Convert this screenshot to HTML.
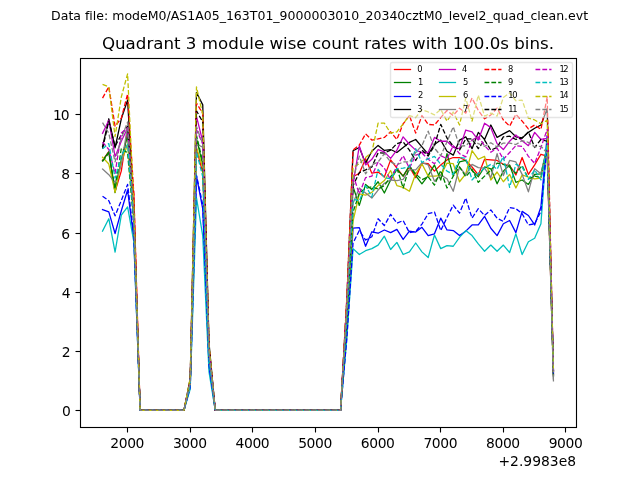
<!DOCTYPE html>
<html lang="en"><head><meta charset="utf-8"><title>Quadrant 3 module wise count rates</title>
<style>html,body{margin:0;padding:0;background:#fff;overflow:hidden}svg{display:block}text{font-family:'DejaVu Sans','Liberation Sans',sans-serif;fill:#000;font-variant-ligatures:none}svg{will-change:transform}</style></head><body>
<svg width="640" height="480" viewBox="0 0 640 480">
<rect x="0" y="0" width="640" height="480" fill="#fff"/>
<text x="319.6" y="19.60" font-size="12.52" text-anchor="middle">Data file: modeM0/AS1A05_163T01_9000003010_20340cztM0_level2_quad_clean.evt</text>
<text x="328" y="49.30" font-size="16.667" text-anchor="middle">Quadrant 3 module wise count rates with 100.0s bins.</text>
<clipPath id="c"><rect x="80.0" y="57.6" width="496.0" height="369.6"/></clipPath>
<g clip-path="url(#c)" fill="none" stroke-width="1.29" stroke-linejoin="round">
<polyline points="102.55,160.48 108.81,151.61 115.07,191.53 121.33,170.83 127.60,129.42 133.86,194.49 140.12,410.40 146.38,410.40 152.65,410.40 158.91,410.40 165.17,410.40 171.43,410.40 177.70,410.40 183.96,410.40 190.22,384.25 196.48,148.94 202.75,172.60 209.01,358.08 215.27,410.40 221.54,410.40 227.80,410.40 234.06,410.40 240.32,410.40 246.59,410.40 252.85,410.40 259.11,410.40 265.37,410.40 271.64,410.40 277.90,410.40 284.16,410.40 290.42,410.40 296.69,410.40 302.95,410.40 309.21,410.40 315.47,410.40 321.74,410.40 328.00,410.40 334.26,410.40 340.53,410.40 346.79,302.92 353.05,176.74 359.31,173.19 365.58,158.70 371.84,173.19 378.10,172.01 384.36,177.04 390.63,159.89 396.89,168.17 403.15,176.15 409.41,166.98 415.68,177.63 421.94,163.14 428.20,163.73 434.46,171.13 440.73,164.91 446.99,159.89 453.25,157.52 459.52,157.52 465.78,160.48 472.04,166.98 478.30,174.97 484.57,159.29 490.83,159.89 497.09,160.48 503.35,164.32 509.62,165.51 515.88,174.97 522.14,157.52 528.40,174.38 534.67,164.91 540.93,154.27 547.19,156.04 553.45,374.91" stroke="#ff0000" stroke-linecap="square"/>
<polyline points="102.55,160.77 108.81,151.90 115.07,192.72 121.33,159.00 127.60,135.34 133.86,218.15 140.12,410.40 146.38,410.40 152.65,410.40 158.91,410.40 165.17,410.40 171.43,410.40 177.70,410.40 183.96,410.40 190.22,383.19 196.48,138.30 202.75,164.91 209.01,356.39 215.27,410.40 221.54,410.40 227.80,410.40 234.06,410.40 240.32,410.40 246.59,410.40 252.85,410.40 259.11,410.40 265.37,410.40 271.64,410.40 277.90,410.40 284.16,410.40 290.42,410.40 296.69,410.40 302.95,410.40 309.21,410.40 315.47,410.40 321.74,410.40 328.00,410.40 334.26,410.40 340.53,410.40 346.79,312.03 353.05,186.80 359.31,205.43 365.58,184.44 371.84,189.46 378.10,181.77 384.36,193.01 390.63,180.00 396.89,169.35 403.15,176.15 409.41,165.51 415.68,175.56 421.94,183.84 428.20,175.56 434.46,164.91 440.73,180.00 446.99,153.67 453.25,175.56 459.52,161.96 465.78,160.48 472.04,170.53 478.30,176.74 484.57,166.98 490.83,168.76 497.09,183.84 503.35,171.13 509.62,164.91 515.88,182.36 522.14,180.00 528.40,184.44 534.67,174.38 540.93,173.79 547.19,147.17 553.45,376.39" stroke="#008000" stroke-linecap="square"/>
<polyline points="102.55,209.57 108.81,211.94 115.07,233.53 121.33,210.76 127.60,190.05 133.86,238.86 140.12,410.40 146.38,410.40 152.65,410.40 158.91,410.40 165.17,410.40 171.43,410.40 177.70,410.40 183.96,410.40 190.22,386.97 196.48,176.15 202.75,208.98 209.01,366.09 215.27,410.40 221.54,410.40 227.80,410.40 234.06,410.40 240.32,410.40 246.59,410.40 252.85,410.40 259.11,410.40 265.37,410.40 271.64,410.40 277.90,410.40 284.16,410.40 290.42,410.40 296.69,410.40 302.95,410.40 309.21,410.40 315.47,410.40 321.74,410.40 328.00,410.40 334.26,410.40 340.53,410.40 346.79,333.88 353.05,228.21 359.31,227.62 365.58,246.25 371.84,231.76 378.10,233.24 384.36,229.98 390.63,232.65 396.89,229.39 403.15,239.45 409.41,231.16 415.68,232.05 421.94,227.32 428.20,235.60 434.46,233.83 440.73,218.15 446.99,229.98 453.25,230.57 459.52,235.60 465.78,231.16 472.04,224.95 478.30,224.95 484.57,216.38 490.83,228.21 497.09,235.60 503.35,223.77 509.62,220.52 515.88,232.65 522.14,211.35 528.40,215.49 534.67,224.95 540.93,206.91 547.19,135.34 553.45,374.91" stroke="#0000ff" stroke-linecap="square"/>
<polyline points="102.55,146.58 108.81,118.77 115.07,147.76 121.33,118.77 127.60,100.14 133.86,209.28 140.12,410.40 146.38,410.40 152.65,410.40 158.91,410.40 165.17,410.40 171.43,410.40 177.70,410.40 183.96,410.40 190.22,378.60 196.48,92.45 202.75,104.87 209.01,343.17 215.27,410.40 221.54,410.40 227.80,410.40 234.06,410.40 240.32,410.40 246.59,410.40 252.85,410.40 259.11,410.40 265.37,410.40 271.64,410.40 277.90,410.40 284.16,410.40 290.42,410.40 296.69,410.40 302.95,410.40 309.21,410.40 315.47,410.40 321.74,410.40 328.00,410.40 334.26,410.40 340.53,410.40 346.79,301.32 353.05,150.72 359.31,147.46 365.58,163.14 371.84,151.31 378.10,145.39 384.36,150.42 390.63,149.53 396.89,152.49 403.15,147.46 409.41,142.44 415.68,139.48 421.94,146.87 428.20,154.27 434.46,144.51 440.73,140.07 446.99,151.31 453.25,155.15 459.52,140.07 465.78,136.81 472.04,148.65 478.30,132.38 484.57,139.48 490.83,124.99 497.09,137.41 503.35,133.86 509.62,130.60 515.88,136.81 522.14,138.00 528.40,132.38 534.67,128.24 540.93,124.99 547.19,108.72 553.45,371.95" stroke="#000000" stroke-linecap="square"/>
<polyline points="102.55,133.27 108.81,120.25 115.07,156.63 121.33,141.25 127.60,127.94 133.86,215.19 140.12,410.40 146.38,410.40 152.65,410.40 158.91,410.40 165.17,410.40 171.43,410.40 177.70,410.40 183.96,410.40 190.22,381.00 196.48,116.41 202.75,141.55 209.01,351.25 215.27,410.40 221.54,410.40 227.80,410.40 234.06,410.40 240.32,410.40 246.59,410.40 252.85,410.40 259.11,410.40 265.37,410.40 271.64,410.40 277.90,410.40 284.16,410.40 290.42,410.40 296.69,410.40 302.95,410.40 309.21,410.40 315.47,410.40 321.74,410.40 328.00,410.40 334.26,410.40 340.53,410.40 346.79,308.57 353.05,184.14 359.31,145.99 365.58,164.91 371.84,159.29 378.10,149.53 384.36,151.90 390.63,158.41 396.89,150.12 403.15,136.81 409.41,144.21 415.68,150.12 421.94,152.49 428.20,152.49 434.46,137.41 440.73,141.25 446.99,141.25 453.25,147.46 459.52,148.65 465.78,130.01 472.04,131.79 478.30,140.07 484.57,123.21 490.83,127.65 497.09,143.62 503.35,149.53 509.62,141.25 515.88,135.04 522.14,140.66 528.40,145.69 534.67,132.38 540.93,139.48 547.19,138.30 553.45,370.47" stroke="#bf00bf" stroke-linecap="square"/>
<polyline points="102.55,231.16 108.81,218.74 115.07,252.17 121.33,215.19 127.60,206.91 133.86,241.81 140.12,410.40 146.38,410.40 152.65,410.40 158.91,410.40 165.17,410.40 171.43,410.40 177.70,410.40 183.96,410.40 190.22,389.13 196.48,197.75 202.75,235.90 209.01,372.01 215.27,410.40 221.54,410.40 227.80,410.40 234.06,410.40 240.32,410.40 246.59,410.40 252.85,410.40 259.11,410.40 265.37,410.40 271.64,410.40 277.90,410.40 284.16,410.40 290.42,410.40 296.69,410.40 302.95,410.40 309.21,410.40 315.47,410.40 321.74,410.40 328.00,410.40 334.26,410.40 340.53,410.40 346.79,339.21 353.05,248.62 359.31,254.53 365.58,250.69 371.84,248.62 378.10,245.07 384.36,236.19 390.63,249.50 396.89,242.41 403.15,254.53 409.41,251.87 415.68,243.00 421.94,251.87 428.20,257.49 434.46,235.01 440.73,248.62 446.99,245.66 453.25,246.25 459.52,237.38 465.78,230.57 472.04,235.60 478.30,243.88 484.57,251.28 490.83,245.07 497.09,251.28 503.35,245.07 509.62,252.46 515.88,233.83 522.14,254.53 528.40,241.81 534.67,238.26 540.93,223.77 547.19,138.30 553.45,370.47" stroke="#00bfbf" stroke-linecap="square"/>
<polyline points="102.55,157.22 108.81,164.03 115.07,192.42 121.33,161.96 127.60,144.21 133.86,221.11 140.12,410.40 146.38,410.40 152.65,410.40 158.91,410.40 165.17,410.40 171.43,410.40 177.70,410.40 183.96,410.40 190.22,384.08 196.48,147.17 202.75,167.87 209.01,357.04 215.27,410.40 221.54,410.40 227.80,410.40 234.06,410.40 240.32,410.40 246.59,410.40 252.85,410.40 259.11,410.40 265.37,410.40 271.64,410.40 277.90,410.40 284.16,410.40 290.42,410.40 296.69,410.40 302.95,410.40 309.21,410.40 315.47,410.40 321.74,410.40 328.00,410.40 334.26,410.40 340.53,410.40 346.79,323.33 353.05,221.11 359.31,193.90 365.58,195.08 371.84,192.42 378.10,185.62 384.36,180.59 390.63,170.53 396.89,185.62 403.15,187.39 409.41,191.24 415.68,173.79 421.94,163.73 428.20,176.15 434.46,176.15 440.73,175.56 446.99,163.14 453.25,163.73 459.52,181.77 465.78,173.79 472.04,150.72 478.30,159.29 484.57,156.34 490.83,180.00 497.09,172.01 503.35,181.77 509.62,174.38 515.88,187.99 522.14,174.97 528.40,177.04 534.67,178.81 540.93,178.22 547.19,147.17 553.45,374.91" stroke="#bfbf00" stroke-linecap="square"/>
<polyline points="102.55,169.05 108.81,174.68 115.07,182.66 121.33,164.91 127.60,126.47 133.86,218.15 140.12,410.40 146.38,410.40 152.65,410.40 158.91,410.40 165.17,410.40 171.43,410.40 177.70,410.40 183.96,410.40 190.22,383.78 196.48,144.21 202.75,147.17 209.01,352.49 215.27,410.40 221.54,410.40 227.80,410.40 234.06,410.40 240.32,410.40 246.59,410.40 252.85,410.40 259.11,410.40 265.37,410.40 271.64,410.40 277.90,410.40 284.16,410.40 290.42,410.40 296.69,410.40 302.95,410.40 309.21,410.40 315.47,410.40 321.74,410.40 328.00,410.40 334.26,410.40 340.53,410.40 346.79,317.23 353.05,203.36 359.31,187.99 365.58,193.01 371.84,198.04 378.10,190.05 384.36,183.25 390.63,180.00 396.89,180.59 403.15,179.41 409.41,169.94 415.68,169.94 421.94,162.55 428.20,164.91 434.46,181.18 440.73,174.97 446.99,178.81 453.25,191.24 459.52,166.98 465.78,174.97 472.04,164.32 478.30,167.58 484.57,168.17 490.83,177.63 497.09,153.67 503.35,175.56 509.62,160.48 515.88,161.96 522.14,174.38 528.40,191.83 534.67,168.76 540.93,173.79 547.19,147.17 553.45,380.82" stroke="#808080" stroke-linecap="square"/>
<polyline points="102.55,98.07 108.81,86.83 115.07,126.17 121.33,118.18 127.60,93.93 133.86,194.49 140.12,410.40 146.38,410.40 152.65,410.40 158.91,410.40 165.17,410.40 171.43,410.40 177.70,410.40 183.96,410.40 190.22,379.67 196.48,103.10 202.75,113.45 209.01,345.07 215.27,410.40 221.54,410.40 227.80,410.40 234.06,410.40 240.32,410.40 246.59,410.40 252.85,410.40 259.11,410.40 265.37,410.40 271.64,410.40 277.90,410.40 284.16,410.40 290.42,410.40 296.69,410.40 302.95,410.40 309.21,410.40 315.47,410.40 321.74,410.40 328.00,410.40 334.26,410.40 340.53,410.40 346.79,298.48 353.05,150.12 359.31,145.10 365.58,133.86 371.84,140.07 378.10,138.89 384.36,137.41 390.63,131.79 396.89,139.48 403.15,123.80 409.41,115.52 415.68,133.12 421.94,115.52 428.20,124.39 434.46,124.99 440.73,117.59 446.99,110.49 453.25,115.52 459.52,108.13 465.78,113.16 472.04,98.07 478.30,110.49 484.57,118.77 490.83,114.93 497.09,108.13 503.35,119.96 509.62,126.17 515.88,114.34 522.14,121.14 528.40,128.83 534.67,124.99 540.93,129.42 547.19,96.89 553.45,371.95" stroke="#ff0000" stroke-dasharray="4.78 2.07"/>
<polyline points="102.55,161.37 108.81,153.08 115.07,188.57 121.33,148.35 127.60,153.08 133.86,224.07 140.12,410.40 146.38,410.40 152.65,410.40 158.91,410.40 165.17,410.40 171.43,410.40 177.70,410.40 183.96,410.40 190.22,382.89 196.48,135.34 202.75,161.96 209.01,355.74 215.27,410.40 221.54,410.40 227.80,410.40 234.06,410.40 240.32,410.40 246.59,410.40 252.85,410.40 259.11,410.40 265.37,410.40 271.64,410.40 277.90,410.40 284.16,410.40 290.42,410.40 296.69,410.40 302.95,410.40 309.21,410.40 315.47,410.40 321.74,410.40 328.00,410.40 334.26,410.40 340.53,410.40 346.79,321.23 353.05,212.24 359.31,193.01 365.58,188.57 371.84,186.80 378.10,188.87 384.36,185.62 390.63,176.74 396.89,167.87 403.15,187.99 409.41,166.39 415.68,173.79 421.94,179.70 428.20,176.74 434.46,185.03 440.73,170.53 446.99,187.99 453.25,176.15 459.52,166.98 465.78,176.74 472.04,169.35 478.30,182.36 484.57,176.15 490.83,169.94 497.09,163.14 503.35,164.32 509.62,166.98 515.88,173.19 522.14,165.51 528.40,178.81 534.67,176.15 540.93,177.63 547.19,147.17 553.45,376.39" stroke="#008000" stroke-dasharray="4.78 2.07"/>
<polyline points="102.55,196.27 108.81,200.70 115.07,215.79 121.33,200.41 127.60,184.44 133.86,235.90 140.12,410.40 146.38,410.40 152.65,410.40 158.91,410.40 165.17,410.40 171.43,410.40 177.70,410.40 183.96,410.40 190.22,386.89 196.48,175.27 202.75,204.84 209.01,365.18 215.27,410.40 221.54,410.40 227.80,410.40 234.06,410.40 240.32,410.40 246.59,410.40 252.85,410.40 259.11,410.40 265.37,410.40 271.64,410.40 277.90,410.40 284.16,410.40 290.42,410.40 296.69,410.40 302.95,410.40 309.21,410.40 315.47,410.40 321.74,410.40 328.00,410.40 334.26,410.40 340.53,410.40 346.79,338.41 353.05,243.00 359.31,230.57 365.58,240.04 371.84,236.79 378.10,218.74 384.36,225.55 390.63,214.31 396.89,223.18 403.15,220.52 409.41,232.65 415.68,231.46 421.94,224.07 428.20,213.72 434.46,211.94 440.73,230.57 446.99,217.56 453.25,205.14 459.52,213.12 465.78,198.04 472.04,218.15 478.30,208.69 484.57,215.49 490.83,209.87 497.09,218.15 503.35,221.40 509.62,207.51 515.88,208.69 522.14,213.72 528.40,224.95 534.67,223.77 540.93,211.35 547.19,144.21 553.45,373.43" stroke="#0000ff" stroke-dasharray="4.78 2.07"/>
<polyline points="102.55,148.65 108.81,121.14 115.07,146.28 121.33,134.75 127.60,126.17 133.86,212.24 140.12,410.40 146.38,410.40 152.65,410.40 158.91,410.40 165.17,410.40 171.43,410.40 177.70,410.40 183.96,410.40 190.22,380.44 196.48,110.79 202.75,122.03 209.01,346.96 215.27,410.40 221.54,410.40 227.80,410.40 234.06,410.40 240.32,410.40 246.59,410.40 252.85,410.40 259.11,410.40 265.37,410.40 271.64,410.40 277.90,410.40 284.16,410.40 290.42,410.40 296.69,410.40 302.95,410.40 309.21,410.40 315.47,410.40 321.74,410.40 328.00,410.40 334.26,410.40 340.53,410.40 346.79,311.50 353.05,185.62 359.31,172.60 365.58,169.94 371.84,166.98 378.10,152.79 384.36,153.08 390.63,150.12 396.89,143.62 403.15,141.84 409.41,150.12 415.68,160.48 421.94,150.12 428.20,156.04 434.46,145.69 440.73,124.39 446.99,138.00 453.25,146.28 459.52,150.12 465.78,138.89 472.04,138.89 478.30,148.65 484.57,140.07 490.83,150.12 497.09,147.46 503.35,136.81 509.62,136.23 515.88,139.48 522.14,138.00 528.40,131.79 534.67,147.46 540.93,139.48 547.19,141.25 553.45,371.95" stroke="#000000" stroke-dasharray="4.78 2.07"/>
<polyline points="102.55,142.14 108.81,149.53 115.07,173.49 121.33,132.97 127.60,127.65 133.86,218.15 140.12,410.40 146.38,410.40 152.65,410.40 158.91,410.40 165.17,410.40 171.43,410.40 177.70,410.40 183.96,410.40 190.22,382.30 196.48,129.42 202.75,144.21 209.01,351.84 215.27,410.40 221.54,410.40 227.80,410.40 234.06,410.40 240.32,410.40 246.59,410.40 252.85,410.40 259.11,410.40 265.37,410.40 271.64,410.40 277.90,410.40 284.16,410.40 290.42,410.40 296.69,410.40 302.95,410.40 309.21,410.40 315.47,410.40 321.74,410.40 328.00,410.40 334.26,410.40 340.53,410.40 346.79,306.82 353.05,174.97 359.31,193.90 365.58,177.63 371.84,176.15 378.10,161.96 384.36,168.17 390.63,180.00 396.89,165.80 403.15,155.75 409.41,168.17 415.68,155.15 421.94,153.08 428.20,159.29 434.46,163.73 440.73,155.75 446.99,158.70 453.25,145.69 459.52,153.67 465.78,156.93 472.04,140.07 478.30,136.81 484.57,145.69 490.83,152.20 497.09,148.06 503.35,159.29 509.62,152.49 515.88,145.69 522.14,146.28 528.40,156.34 534.67,163.43 540.93,147.46 547.19,129.42 553.45,370.47" stroke="#bf00bf" stroke-dasharray="4.78 2.07"/>
<polyline points="102.55,148.65 108.81,143.62 115.07,178.22 121.33,156.04 127.60,144.21 133.86,221.11 140.12,410.40 146.38,410.40 152.65,410.40 158.91,410.40 165.17,410.40 171.43,410.40 177.70,410.40 183.96,410.40 190.22,384.55 196.48,151.90 202.75,176.74 209.01,359.00 215.27,410.40 221.54,410.40 227.80,410.40 234.06,410.40 240.32,410.40 246.59,410.40 252.85,410.40 259.11,410.40 265.37,410.40 271.64,410.40 277.90,410.40 284.16,410.40 290.42,410.40 296.69,410.40 302.95,410.40 309.21,410.40 315.47,410.40 321.74,410.40 328.00,410.40 334.26,410.40 340.53,410.40 346.79,317.47 353.05,199.22 359.31,201.00 365.58,185.62 371.84,196.86 378.10,169.35 384.36,177.63 390.63,178.81 396.89,168.76 403.15,168.17 409.41,166.98 415.68,148.65 421.94,162.55 428.20,158.70 434.46,156.34 440.73,164.32 446.99,171.13 453.25,174.38 459.52,157.52 465.78,158.11 472.04,180.00 478.30,173.19 484.57,168.17 490.83,164.32 497.09,169.35 503.35,156.34 509.62,187.39 515.88,164.32 522.14,166.98 528.40,179.41 534.67,169.94 540.93,180.00 547.19,144.21 553.45,370.47" stroke="#00bfbf" stroke-dasharray="4.78 2.07"/>
<polyline points="102.55,84.47 108.81,86.83 115.07,136.52 121.33,96.89 127.60,73.82 133.86,206.32 140.12,410.40 146.38,410.40 152.65,410.40 158.91,410.40 165.17,410.40 171.43,410.40 177.70,410.40 183.96,410.40 190.22,378.04 196.48,86.83 202.75,114.63 209.01,345.33 215.27,410.40 221.54,410.40 227.80,410.40 234.06,410.40 240.32,410.40 246.59,410.40 252.85,410.40 259.11,410.40 265.37,410.40 271.64,410.40 277.90,410.40 284.16,410.40 290.42,410.40 296.69,410.40 302.95,410.40 309.21,410.40 315.47,410.40 321.74,410.40 328.00,410.40 334.26,410.40 340.53,410.40 346.79,303.57 353.05,167.58 359.31,163.73 365.58,157.52 371.84,152.20 378.10,123.21 384.36,123.21 390.63,133.12 396.89,131.79 403.15,123.80 409.41,115.52 415.68,117.59 421.94,109.61 428.20,111.97 434.46,114.93 440.73,109.31 446.99,121.14 453.25,111.97 459.52,124.99 465.78,98.07 472.04,121.14 478.30,95.11 484.57,116.11 490.83,113.16 497.09,116.11 503.35,97.48 509.62,93.04 515.88,100.73 522.14,100.14 528.40,118.18 534.67,119.96 540.93,123.80 547.19,120.25 553.45,371.95" stroke="#bfbf00" stroke-dasharray="4.78 2.07"/>
<polyline points="102.55,122.62 108.81,133.27 115.07,161.96 121.33,138.30 127.60,122.03 133.86,215.19 140.12,410.40 146.38,410.40 152.65,410.40 158.91,410.40 165.17,410.40 171.43,410.40 177.70,410.40 183.96,410.40 190.22,382.01 196.48,126.47 202.75,144.21 209.01,351.84 215.27,410.40 221.54,410.40 227.80,410.40 234.06,410.40 240.32,410.40 246.59,410.40 252.85,410.40 259.11,410.40 265.37,410.40 271.64,410.40 277.90,410.40 284.16,410.40 290.42,410.40 296.69,410.40 302.95,410.40 309.21,410.40 315.47,410.40 321.74,410.40 328.00,410.40 334.26,410.40 340.53,410.40 346.79,308.89 353.05,179.70 359.31,156.04 365.58,173.79 371.84,164.91 378.10,161.96 384.36,153.67 390.63,161.96 396.89,164.91 403.15,161.96 409.41,161.96 415.68,152.49 421.94,145.69 428.20,131.20 434.46,148.06 440.73,155.75 446.99,141.84 453.25,126.76 459.52,146.28 465.78,145.69 472.04,139.48 478.30,143.62 484.57,146.28 490.83,142.73 497.09,146.87 503.35,143.03 509.62,143.03 515.88,144.51 522.14,140.66 528.40,142.44 534.67,146.87 540.93,146.28 547.19,153.08 553.45,380.82" stroke="#808080" stroke-dasharray="4.78 2.07"/>
</g>
<g stroke="#000" stroke-width="1.111" fill="none">
<line x1="127.5" y1="427.5" x2="127.5" y2="432.5"/>
<line x1="190.5" y1="427.5" x2="190.5" y2="432.5"/>
<line x1="252.5" y1="427.5" x2="252.5" y2="432.5"/>
<line x1="315.5" y1="427.5" x2="315.5" y2="432.5"/>
<line x1="378.5" y1="427.5" x2="378.5" y2="432.5"/>
<line x1="440.5" y1="427.5" x2="440.5" y2="432.5"/>
<line x1="503.5" y1="427.5" x2="503.5" y2="432.5"/>
<line x1="565.5" y1="427.5" x2="565.5" y2="432.5"/>
<line x1="75.5" y1="410.5" x2="80.5" y2="410.5"/>
<line x1="75.5" y1="351.5" x2="80.5" y2="351.5"/>
<line x1="75.5" y1="292.5" x2="80.5" y2="292.5"/>
<line x1="75.5" y1="233.5" x2="80.5" y2="233.5"/>
<line x1="75.5" y1="173.5" x2="80.5" y2="173.5"/>
<line x1="75.5" y1="114.5" x2="80.5" y2="114.5"/>
<rect x="80.5" y="58.5" width="496" height="369"/>
</g>
<g font-size="13.889">
<text x="127.16" y="447.80" text-anchor="middle" letter-spacing="-0.4">2000</text>
<text x="189.78" y="447.80" text-anchor="middle" letter-spacing="-0.4">3000</text>
<text x="252.41" y="447.80" text-anchor="middle" letter-spacing="-0.4">4000</text>
<text x="315.03" y="447.80" text-anchor="middle" letter-spacing="-0.4">5000</text>
<text x="377.66" y="447.80" text-anchor="middle" letter-spacing="-0.4">6000</text>
<text x="440.29" y="447.80" text-anchor="middle" letter-spacing="-0.4">7000</text>
<text x="502.91" y="447.80" text-anchor="middle" letter-spacing="-0.4">8000</text>
<text x="565.54" y="447.80" text-anchor="middle" letter-spacing="-0.4">9000</text>
<text x="70.90" y="415.85" text-anchor="end">0</text>
<text x="70.70" y="356.85" text-anchor="end">2</text>
<text x="70.70" y="297.85" text-anchor="end">4</text>
<text x="70.10" y="238.85" text-anchor="end">6</text>
<text x="70.10" y="178.85" text-anchor="end">8</text>
<text x="68.65" y="119.85" text-anchor="end" letter-spacing="-1">10</text>
<text x="576" y="466.00" text-anchor="end">+2.9983e8</text>
</g>
<rect x="390.5" y="62.5" width="182" height="55" rx="1.7" ry="1.7" fill="#fff" fill-opacity="0.5" stroke="#cccccc" stroke-opacity="0.5" stroke-width="1.389"/>
<g fill="none" stroke-width="1.29">
<line x1="394.5" y1="69.5" x2="410.5" y2="69.5" stroke="#ff0000" stroke-linecap="square"/>
<line x1="394.5" y1="82.5" x2="410.5" y2="82.5" stroke="#008000" stroke-linecap="square"/>
<line x1="394.5" y1="96.5" x2="410.5" y2="96.5" stroke="#0000ff" stroke-linecap="square"/>
<line x1="394.5" y1="109.5" x2="410.5" y2="109.5" stroke="#000000" stroke-linecap="square"/>
<line x1="439.5" y1="69.5" x2="455.5" y2="69.5" stroke="#bf00bf" stroke-linecap="square"/>
<line x1="439.5" y1="82.5" x2="455.5" y2="82.5" stroke="#00bfbf" stroke-linecap="square"/>
<line x1="439.5" y1="96.5" x2="455.5" y2="96.5" stroke="#bfbf00" stroke-linecap="square"/>
<line x1="439.5" y1="109.5" x2="455.5" y2="109.5" stroke="#808080" stroke-linecap="square"/>
<line x1="484.5" y1="69.5" x2="501.5" y2="69.5" stroke="#ff0000" stroke-dasharray="4.78 2.07"/>
<line x1="484.5" y1="82.5" x2="501.5" y2="82.5" stroke="#008000" stroke-dasharray="4.78 2.07"/>
<line x1="484.5" y1="96.5" x2="501.5" y2="96.5" stroke="#0000ff" stroke-dasharray="4.78 2.07"/>
<line x1="484.5" y1="109.5" x2="501.5" y2="109.5" stroke="#000000" stroke-dasharray="4.78 2.07"/>
<line x1="535.5" y1="69.5" x2="551.5" y2="69.5" stroke="#bf00bf" stroke-dasharray="4.78 2.07"/>
<line x1="535.5" y1="82.5" x2="551.5" y2="82.5" stroke="#00bfbf" stroke-dasharray="4.78 2.07"/>
<line x1="535.5" y1="96.5" x2="551.5" y2="96.5" stroke="#bfbf00" stroke-dasharray="4.78 2.07"/>
<line x1="535.5" y1="109.5" x2="551.5" y2="109.5" stroke="#808080" stroke-dasharray="4.78 2.07"/>
</g><g font-size="8.333">
<text x="417.22" y="72.13">0</text>
<text x="418.12" y="85.30">1</text>
<text x="418.12" y="98.47">2</text>
<text x="417.22" y="111.63">3</text>
<text x="462.00" y="72.13">4</text>
<text x="463.00" y="85.30">5</text>
<text x="463.00" y="98.47">6</text>
<text x="463.00" y="111.63">7</text>
<text x="507.97" y="72.13">8</text>
<text x="507.97" y="85.30">9</text>
<text x="508.27" y="98.47" letter-spacing="-1.4">10</text>
<text x="508.27" y="111.63" letter-spacing="-1.4">11</text>
<text x="559.38" y="72.13" letter-spacing="-1.4">12</text>
<text x="559.38" y="85.30" letter-spacing="-1.4">13</text>
<text x="559.38" y="98.47" letter-spacing="-1.4">14</text>
<text x="559.38" y="111.63" letter-spacing="-1.4">15</text>
</g>
</svg></body></html>
